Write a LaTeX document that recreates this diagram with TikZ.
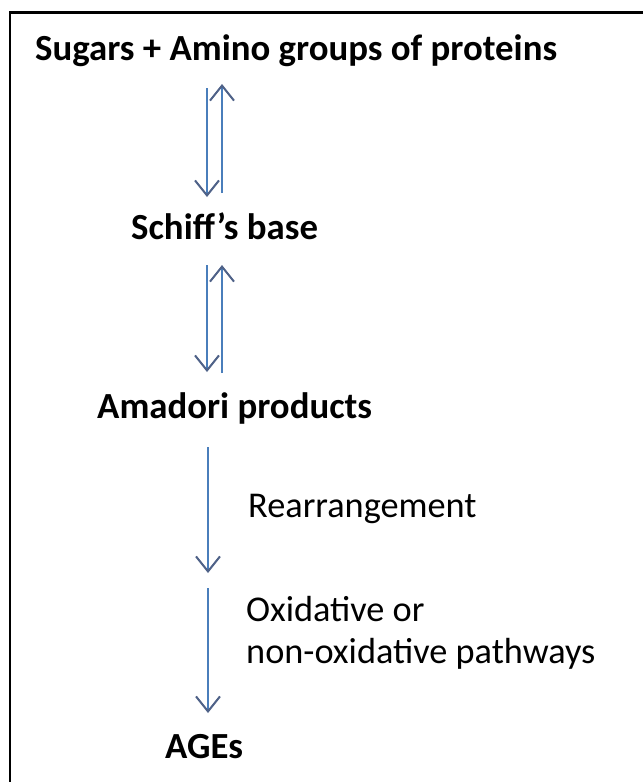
\documentclass[tikz,border=0pt]{standalone}
\usepackage{fontspec}
\setmainfont{Carlito}
\usetikzlibrary{arrows.meta}
\definecolor{shaft}{HTML}{4A7EBB}
\definecolor{headc}{HTML}{4F6288}
\tikzset{
  lbl/.style={anchor=base west, inner sep=0pt, font=\fontsize{36.8}{44}\selectfont\bfseries},
  note/.style={anchor=base west, inner sep=0pt, font=\fontsize{36.3}{42}\selectfont},
  arr/.style={draw=shaft, line width=2pt, -{Straight Barb[length=15pt,width=24pt,line width=2pt,color=headc]}},
  frame/.style={draw=black, line width=2.5pt}
}
\begin{document}
\begin{tikzpicture}[x=1pt,y=-1pt]
\useasboundingbox (0,0) rectangle (643,782);
\fill[white] (0,0) rectangle (643,782);
\draw[frame] (10,782) -- (10,12.5) -- (643,12.5);
\node[lbl] (sug) at (35,60) {Sugars + Amino groups of proteins};
\node[lbl] (sch) at (131,239) {Schiff’s base};
\node[lbl] (ama) at (97,418) {Amadori products};
\node[note] (rea) at (248,517) {Rearrangement};
\node[note] (oxi1) at (246,621) {Oxidative or};
\node[note] (oxi2) at (246,663) {non-oxidative pathways};
\node[lbl] (age) at (165,758) {AGEs};
\coordinate (d1s) at (207,88);  \coordinate (d1e) at (207,197);
\coordinate (u1s) at (222,193); \coordinate (u1e) at (222,84);
\coordinate (d2s) at (207,265); \coordinate (d2e) at (207,372);
\coordinate (u2s) at (222,373); \coordinate (u2e) at (222,265);
\coordinate (d3s) at (208,447); \coordinate (d3e) at (208,573);
\coordinate (d4s) at (208,588); \coordinate (d4e) at (208,713);
\draw[arr] (d1s) -- (d1e);
\draw[arr] (u1s) -- (u1e);
\draw[arr] (d2s) -- (d2e);
\draw[arr] (u2s) -- (u2e);
\draw[arr] (d3s) -- (d3e);
\draw[arr] (d4s) -- (d4e);
\end{tikzpicture}
\end{document}
